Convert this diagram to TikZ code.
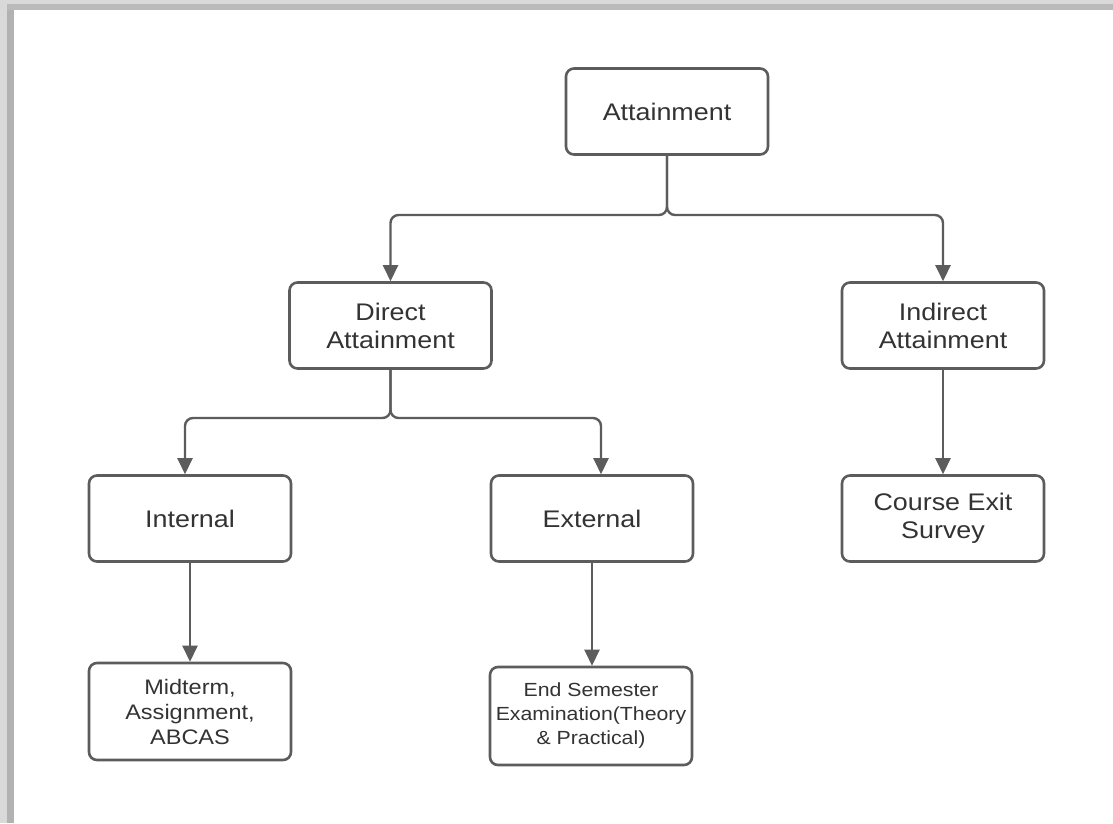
\documentclass[tikz,border=0pt]{standalone}
\usepackage{fontspec}
\setmainfont{Liberation Sans}[FakeStretch=1.12]
\usetikzlibrary{arrows.meta}
\definecolor{edge}{HTML}{5C5C5C}
\definecolor{txt}{HTML}{333333}
\begin{document}
\begin{tikzpicture}[x=1pt,y=-1pt,
  box/.style={draw=edge, line width=2.6pt, rounded corners=8pt, fill=white,
    minimum width=202pt, minimum height=86pt, align=center, text=txt,
    font=\fontsize{24}{28}\selectfont, inner sep=0pt},
  conn/.style={draw=edge, line width=2.4pt, rounded corners=8pt,
    -{Triangle[width=15pt,length=16pt]}}]
\fill[black!15] (0,0) rectangle (1113,823);
\fill[black!30] (7,4) rectangle (14,823);
\fill[black!27] (7,4) rectangle (1113,10);
\fill[white] (14,10) rectangle (1113,823);
\useasboundingbox (0,0) rectangle (1113,823);

\node[box] (att) at (667,111.5) {Attainment};
\node[box] (dir) at (390.5,325.5) {Direct\\Attainment};
\node[box] (ind) at (943,325.5) {Indirect\\Attainment};
\node[box] (int) at (190,518.5) {Internal};
\node[box] (ext) at (592,518.5) {External};
\node[box] (ces) at (943,518.5) {Course Exit\\Survey};
\node[box, minimum height=97pt, font=\fontsize{21}{25}\selectfont] (mid) at (190,711.5) {Midterm,\\Assignment,\\ABCAS};
\node[box, minimum height=98pt, font=\fontsize{19}{24}\selectfont] (end) at (591,716) {End Semester\\Examination(Theory\\\& Practical)};

\draw[conn] (att.south) -- (667,215) -- (390.5,215) -- (dir.north);
\draw[conn] (att.south) -- (667,215) -- (943,215) -- (ind.north);
\draw[conn] (dir.south) -- (390.5,418) -- (185,418) -- ([xshift=-5pt]int.north);
\draw[conn] (dir.south) -- (390.5,418) -- (601,418) -- ([xshift=9pt]ext.north);
\draw[conn] (int.south) -- (mid.north);
\draw[conn] (ext.south) -- (ext.south |- end.north);
\draw[conn] (ind.south) -- (ces.north);
\end{tikzpicture}
\end{document}
